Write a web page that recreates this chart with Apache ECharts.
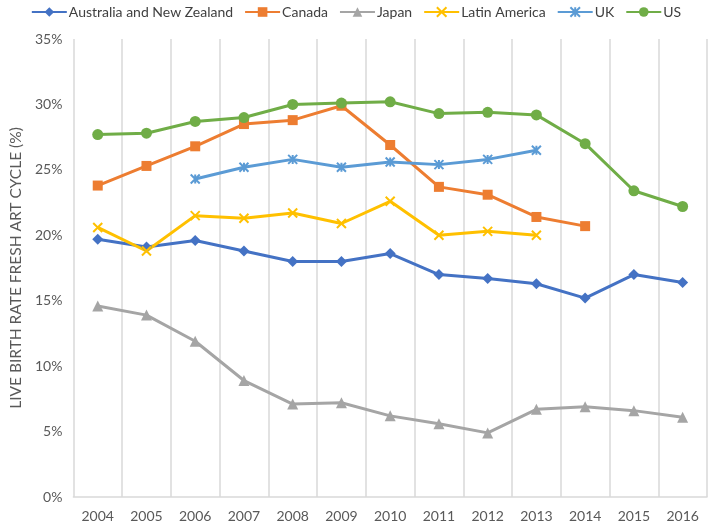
<!DOCTYPE html>
<html><head><meta charset="utf-8">
<script src="https://cdn.jsdelivr.net/npm/echarts@6/dist/echarts.min.js"></script>
<style>html,body{margin:0;padding:0;background:#fff}#c{width:712px;height:523px}</style>
</head><body><div id="c"></div>
<script>
const years = ['2004','2005','2006','2007','2008','2009','2010','2011','2012','2013','2014','2015','2016'];
const australiaNZ = [19.7,19.1,19.6,18.8,18.0,18.0,18.6,17.0,16.7,16.3,15.2,17.0,16.4];
const canada = [23.8,25.3,26.8,28.5,28.8,29.9,26.9,23.7,23.1,21.4,20.7,null,null];
const japan = [14.6,13.9,11.9,8.9,7.1,7.2,6.2,5.6,4.9,6.7,6.9,6.6,6.1];
const latinAmerica = [20.6,18.8,21.5,21.3,21.7,20.9,22.6,20.0,20.3,20.0,null,null,null];
const uk = [null,null,24.3,25.2,25.8,25.2,25.6,25.4,25.8,26.5,null,null,null];
const us = [27.7,27.8,28.7,29.0,30.0,30.1,30.2,29.3,29.4,29.2,27.0,23.4,22.2];

const FONT = 'Lato';
const xPath = 'path://M0,0 L10,10 M10,0 L0,10';
const starPath = 'path://M0,0 L10,10 M10,0 L0,10 M5,0 L5,10';

function mk(name, data, color, symbol, size, stroke) {
  return {
    name, type: 'line', data, symbol, symbolSize: size,
    lineStyle: { color, width: 3 },
    itemStyle: stroke ? { color, borderColor: color, borderWidth: 2 } : { color, borderWidth: 0 },
    emphasis: { disabled: true },
    connectNulls: false,
    animation: false
  };
}

const chart = echarts.init(document.getElementById('c'), null, { renderer: 'canvas' });
chart.setOption({
  animation: false,
  textStyle: { fontFamily: FONT },
  legend: {
    top: 0, left: 'center', itemWidth: 35, itemHeight: 12, itemGap: 11,
    textStyle: { fontFamily: FONT, fontSize: 14, color: '#404040', padding: [0, 0, 0, -3] },
    data: ['Australia and New Zealand','Canada','Japan','Latin America','UK','US']
  },
  grid: { left: 62, right: 5, top: 39, bottom: 26, containLabel: false },
  xAxis: {
    type: 'category', data: years, boundaryGap: true,
    axisLine: { lineStyle: { color: '#d9d9d9', width: 1.5 } },
    axisTick: { show: false },
    splitLine: { show: true, lineStyle: { color: '#d9d9d9', width: 1.5 } },
    axisLabel: { color: '#595959', fontSize: 14, fontFamily: FONT, margin: 12 }
  },
  yAxis: {
    type: 'value', min: 0, max: 35, interval: 5,
    name: 'LIVE BIRTH RATE FRESH ART CYCLE (%)', nameLocation: 'middle', nameGap: 45,
    nameTextStyle: { color: '#595959', fontSize: 15.5, fontFamily: FONT },
    axisLine: { show: false }, axisTick: { show: false },
    splitLine: { show: false },
    axisLabel: { color: '#595959', fontSize: 14, fontFamily: FONT, formatter: '{value}%', margin: 11 }
  },
  series: [
    mk('Australia and New Zealand', australiaNZ, '#4472C4', 'diamond', 11),
    mk('Canada', canada, '#ED7D31', 'rect', 10),
    mk('Japan', japan, '#A5A5A5', 'triangle', 11),
    mk('Latin America', latinAmerica, '#FFC000', xPath, 9, true),
    mk('UK', uk, '#5B9BD5', starPath, 9, true),
    mk('US', us, '#70AD47', 'circle', 11)
  ]
});
</script></body></html>
